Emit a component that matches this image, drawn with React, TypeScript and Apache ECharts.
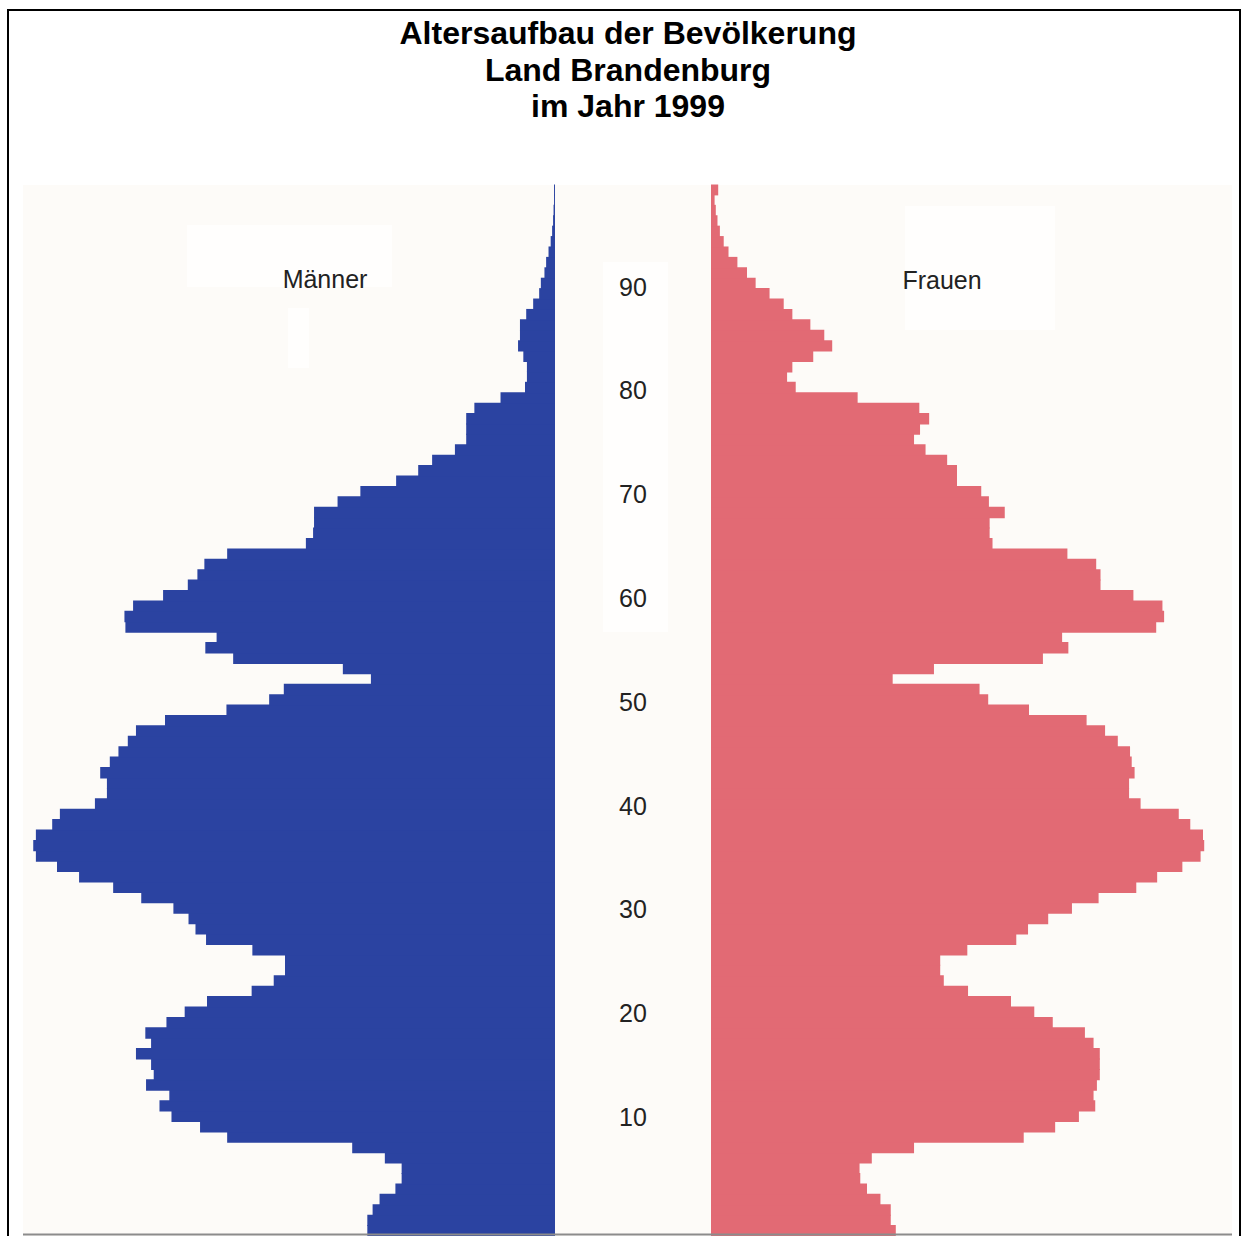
import React, { useEffect, useRef } from 'react';
import * as echarts from 'echarts';

// Texts
const TITLE_LINES = ['Altersaufbau der Bevölkerung', 'Land Brandenburg', 'im Jahr 1999'];
const MALE_LABEL = 'Männer';
const FEMALE_LABEL = 'Frauen';

// Age categories 0..100 (bottom to top)
const AGES = Array.from({ length: 101 }, (_, i) => String(i));

// Population per age year (thousands)
const MALE = [
  7.82, 7.82, 7.6, 7.31, 6.65, 6.39, 6.39, 7.09, 8.45, 13.66,
  14.79, 15.98, 16.48, 16.07, 17.04, 16.72, 16.83, 17.46, 16.83, 17.07,
  16.19, 15.43, 14.5, 12.64, 11.72, 11.25, 11.25, 12.61, 14.54, 14.98,
  15.27, 15.9, 17.24, 18.41, 19.83, 20.75, 21.63, 21.74, 21.63, 20.95,
  20.63, 19.17, 18.67, 18.67, 18.95, 18.55, 18.19, 17.8, 17.46, 16.25,
  13.69, 11.91, 11.3, 7.67, 8.84, 13.41, 14.57, 14.1, 17.9, 17.94,
  17.58, 16.33, 15.3, 14.9, 14.61, 13.66, 10.38, 10.08, 10.04, 10.04,
  9.06, 8.11, 6.62, 5.7, 5.12, 4.17, 3.7, 3.7, 3.7, 3.36,
  2.27, 1.25, 1.17, 1.17, 1.32, 1.54, 1.46, 1.46, 1.2, 0.91,
  0.66, 0.59, 0.44, 0.37, 0.27, 0.18, 0.12, 0.08, 0.06, 0.04, 0.04,
];

const FEMALE = [
  7.7, 7.49, 7.49, 7.06, 6.5, 6.22, 6.19, 6.7, 8.46, 13.03,
  14.34, 15.33, 16.01, 15.94, 16.08, 16.2, 16.2, 16.2, 15.94, 15.58,
  14.24, 13.47, 12.5, 10.71, 9.7, 9.55, 9.55, 10.68, 12.72, 13.21,
  14.05, 15.04, 16.15, 17.72, 18.59, 19.64, 20.4, 20.55, 20.5, 19.97,
  19.49, 17.9, 17.42, 17.42, 17.65, 17.53, 17.46, 16.95, 16.42, 15.65,
  13.25, 11.55, 11.19, 7.57, 9.29, 13.83, 14.89, 14.63, 18.55, 18.88,
  18.81, 17.6, 16.23, 16.23, 16.05, 14.85, 11.73, 11.61, 11.61, 12.24,
  11.58, 11.26, 10.25, 10.25, 9.84, 8.94, 8.46, 8.71, 9.09, 8.68,
  6.11, 3.53, 3.17, 3.39, 4.26, 5.05, 4.72, 4.14, 3.39, 3.03,
  2.44, 1.86, 1.5, 1.1, 0.73, 0.53, 0.37, 0.27, 0.2, 0.15, 0.3,
];

// Age tick labels shown in the centre column
const AGE_TICKS = [10, 20, 30, 40, 50, 60, 70, 80, 90];

const BLUE = '#2b43a1';
const PINK = '#e26a74';
const FONT = '"Liberation Sans", Arial, Helvetica, sans-serif';

export default function App() {
  const ref = useRef<HTMLDivElement>(null);

  useEffect(() => {
    if (!ref.current) return;
    const chart = echarts.init(ref.current, null, { renderer: 'svg' });
    const barTop = 184.5;
    const barH = 1053;

    const textStyle = (text: string, font: string, fill: string) => ({
      text,
      font,
      fill,
      textAlign: 'center',
      textVerticalAlign: 'middle',
      align: 'center',
      verticalAlign: 'middle',
    });

    const titleGraphics = TITLE_LINES.map((t, i) => ({
      type: 'text',
      z: 30,
      x: 628,
      y: 33 + i * 36.5,
      style: textStyle(t, `bold 32px ${FONT}`, '#000000'),
    }));

    chart.setOption({
      animation: false,
      backgroundColor: '#ffffff',
      grid: [
        { left: 27, top: barTop, width: 528, height: barH },
        { left: 711, top: barTop, width: 528, height: barH },
        { left: 633, top: 182.8, width: 1, height: 1038 },
      ],
      xAxis: [
        { gridIndex: 0, type: 'value', min: 0, max: 22, inverse: true, show: false },
        { gridIndex: 1, type: 'value', min: 0, max: 22, show: false },
        { gridIndex: 2, type: 'value', min: 0, max: 1, show: false },
      ],
      yAxis: [
        { gridIndex: 0, type: 'category', data: AGES, show: false },
        { gridIndex: 1, type: 'category', data: AGES, show: false },
        {
          gridIndex: 2,
          type: 'value',
          min: 0,
          max: 100,
          interval: 10,
          z: 10,
          axisLine: { show: false },
          axisTick: { show: false },
          splitLine: { show: false },
          axisLabel: {
            margin: 0,
            align: 'center',
            fontSize: 25,
            color: '#222222',
            fontFamily: FONT,
            formatter: (v: number) => (AGE_TICKS.includes(v) ? String(v) : ''),
          },
        },
      ],
      series: [
        {
          name: MALE_LABEL,
          type: 'bar',
          xAxisIndex: 0,
          yAxisIndex: 0,
          data: MALE,
          barWidth: 11.4,
          itemStyle: { color: BLUE },
        },
        {
          name: FEMALE_LABEL,
          type: 'bar',
          xAxisIndex: 1,
          yAxisIndex: 1,
          data: FEMALE,
          barWidth: 11.4,
          itemStyle: { color: PINK },
        },
        { type: 'line', xAxisIndex: 2, yAxisIndex: 2, data: [], silent: true },
      ],
      graphic: [
        {
          type: 'rect',
          z: -10,
          shape: { x: 23, y: 185, width: 1209, height: 1051 },
          style: { fill: '#fdfbf8' },
        },
        { type: 'rect', z: -5, shape: { x: 187, y: 225, width: 205, height: 62 }, style: { fill: '#fffefd' } },
        { type: 'rect', z: -5, shape: { x: 288, y: 308, width: 21, height: 60 }, style: { fill: '#fffefd' } },
        { type: 'rect', z: -5, shape: { x: 905, y: 206, width: 150, height: 124 }, style: { fill: '#fffefd' } },
        { type: 'rect', z: -5, shape: { x: 603, y: 262, width: 65, height: 370 }, style: { fill: '#fffefd' } },
        {
          type: 'text',
          z: 30,
          x: 325,
          y: 279,
          style: textStyle(MALE_LABEL, `25px ${FONT}`, '#222222'),
        },
        {
          type: 'text',
          z: 30,
          x: 942,
          y: 280,
          style: textStyle(FEMALE_LABEL, `25px ${FONT}`, '#222222'),
        },
        ...titleGraphics,
        {
          type: 'line',
          z: 25,
          shape: { x1: 23, y1: 1234.5, x2: 1232, y2: 1234.5 },
          style: { stroke: '#8c8c8c', lineWidth: 2 },
        },
        {
          type: 'rect',
          z: 40,
          shape: { x: 8, y: 10, width: 1232, height: 1240 },
          style: { fill: 'none', stroke: '#000000', lineWidth: 2 },
        },
      ],
    });

    return () => chart.dispose();
  }, []);

  return (
    <div
      ref={ref}
      style={{ position: 'absolute', left: 0, top: 0, width: 1246, height: 1236 }}
    />
  );
}
